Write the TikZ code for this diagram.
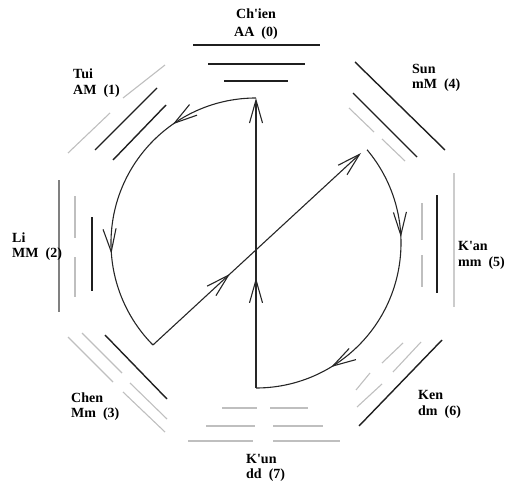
\documentclass[tikz,border=0pt]{standalone}
\usepackage{fontspec}
\setmainfont{Liberation Serif}
\usetikzlibrary{arrows.meta,decorations.markings,calc}
\tikzset{myb/.tip={Straight Barb[length=23pt,width=13pt]}}
\begin{document}
\begin{tikzpicture}[x=1pt,y=-1pt,
  yang/.style={draw=black!88, line width=1.4pt},
  yin/.style={draw=black!25, line width=1.1pt},
  yangmid/.style={draw=black!50, line width=1.2pt},
  yanglight/.style={draw=black!20, line width=1.1pt},
  flow/.style={draw=black!85, line width=1.1pt},
  lbl/.style={font=\bfseries\fontsize{14}{16}\selectfont, inner sep=0pt, anchor=base west},
  midarrow/.style={postaction=decorate, decoration={markings, mark=at position #1 with {\arrow{myb}}}},
  midarrows/.style 2 args={postaction=decorate, decoration={markings,
      mark=at position #1 with {\arrow{myb}}, mark=at position #2 with {\arrow{myb}}}}
]
\useasboundingbox (0,0) rectangle (506,484);

% Ch'ien (top)
\draw[yang] (193,45) -- (320,45);
\draw[yang] (208,64) -- (305,64);
\draw[yang] (224,81) -- (288,81);
% K'un (bottom)
\draw[yin] (222,408) -- (257,408); \draw[yin] (270,408) -- (308,408);
\draw[yin] (206,426) -- (255,426); \draw[yin] (273,426) -- (323,426);
\draw[yin] (188,441) -- (253,441); \draw[yin] (273,441) -- (340,441);
% Li (left)
\draw[yangmid] (59,180) -- (59,312);
\draw[yin] (75,196) -- (75,238); \draw[yin] (75,257) -- (75,297);
\draw[yang] (92,217) -- (92,291);
% K'an (right)
\draw[yanglight] (454,173) -- (454,307);
\draw[yang] (437,195) -- (437,293);
\draw[yin] (422,203) -- (422,240); \draw[yin] (422,255) -- (422,287);
% Tui (upper left)
\draw[yin] (165,65) -- (123,98); \draw[yin] (110,113) -- (68,153);
\draw[yang] (157,88) -- (95,150);
\draw[yang] (166,105) -- (113,160);
% Sun (upper right)
\draw[yang] (355,62) -- (445,150);
\draw[yang] (353,93) -- (417,157);
\draw[yin] (349,108) -- (374,132); \draw[yin] (382,139) -- (405,161);
% Chen (lower left)
\draw[yang] (105,335) -- (167,399);
\draw[yin] (82,333) -- (122,373); \draw[yin] (130,383) -- (167,419);
\draw[yin] (68,337) -- (113,382); \draw[yin] (123,392) -- (165,432);
% Ken (lower right)
\draw[yang] (442,340) -- (359,426);
\draw[yin] (403,343) -- (382,363); \draw[yin] (370,373) -- (356,390);
\draw[yin] (421,342) -- (393,372); \draw[yin] (382,384) -- (357,407);

% labels
\node[lbl, anchor=base] (n0a) at (256,19) {Ch\textquotesingle ien};
\node[lbl, anchor=base] (n0b) at (256,37) {AA~~(0)};
\node[lbl] (n1a) at (73,79) {Tui};
\node[lbl] (n1b) at (73,95) {AM~~(1)};
\node[lbl] (n2a) at (12,242) {Li};
\node[lbl] (n2b) at (12,257) {MM~~(2)};
\node[lbl] (n3a) at (71,402) {Chen};
\node[lbl] (n3b) at (71,417) {Mm~~(3)};
\node[lbl] (n4a) at (412,74) {Sun};
\node[lbl] (n4b) at (412,89) {mM~~(4)};
\node[lbl] (n5a) at (458,250) {K\textquotesingle an};
\node[lbl] (n5b) at (458,266) {mm~~(5)};
\node[lbl] (n6a) at (418,399) {Ken};
\node[lbl] (n6b) at (418,415) {dm~~(6)};
\node[lbl] (n7a) at (246,463) {K\textquotesingle un};
\node[lbl] (n7b) at (246,478) {dd~~(7)};

% flow path
\coordinate (C) at (256,243);
\coordinate (T) at (256,98);
\coordinate (B) at (256,388);
\coordinate (L) at ($(C)+(-224.7:145)$);
\coordinate (Rs) at ($(C)+(-40:145)$);
\coordinate (R) at (361,153);

\draw[flow, -{myb}, midarrow=0.38] (B) -- (T);
\draw[flow, midarrows={0.26}{0.70}] (T) arc[start angle=-90, end angle=-224.7, radius=145];
\draw[flow, -{myb}, midarrow=0.37] (L) -- (R);
\draw[flow, midarrows={0.29}{0.76}] (Rs) arc[start angle=-40, end angle=90, radius=145];
\end{tikzpicture}
\end{document}
